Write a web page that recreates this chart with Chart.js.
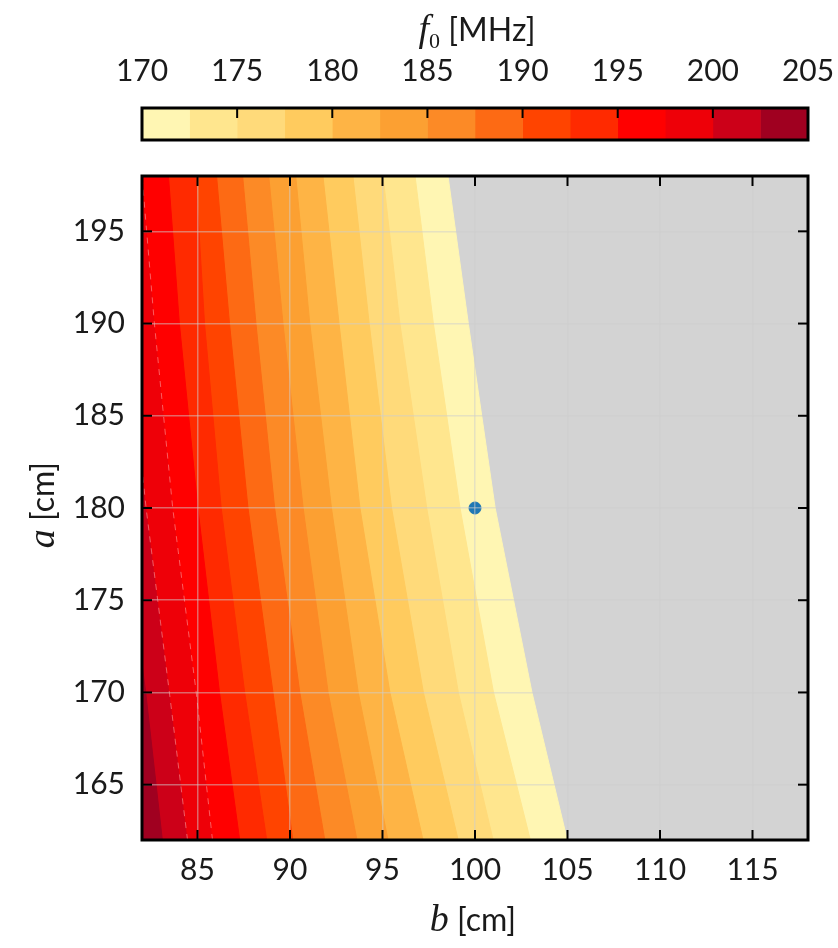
<!DOCTYPE html>
<html>
<head>
<meta charset="utf-8">
<script src="https://cdn.jsdelivr.net/npm/chart.js@4.4.1/dist/chart.umd.min.js"></script>
<style>
html, body { margin: 0; padding: 0; background: #fff; }
#wrap { position: relative; width: 838px; height: 948px; }
#wrap canvas { position: absolute; left: 0; top: 0; }
</style>
</head>
<body>
<div id="wrap">
	<canvas id="main" width="838" height="948"></canvas>
	<canvas id="cbar" width="838" height="150"></canvas>
</div>
<script>
// f0 levels (MHz), band edges of the colour bar
var f0Edges = [170, 172.5, 175, 177.5, 180, 182.5, 185, 187.5, 190, 192.5, 195, 197.5, 200, 202.5, 205];
var bandColors = ['#FFF6B3', '#FFE68E', '#FFDA7A', '#FFCB5E', '#FEB445', '#FCA032', '#FC8A26',
	'#FD6A14', '#FF4400', '#FF2A00', '#FF0000', '#EE0008', '#CC0018', '#A00020'];

var aRows = [162, 170, 180, 190, 198];
// b [cm] position of each f0 contour on those rows (one row per level in f0Edges)
var contourB = [
	[104.99, 103.08, 101.09, 99.64, 98.54],   // 170
	[102.99, 101.00, 99.19, 97.75, 96.76],    // 172.5
	[100.98, 99.10, 97.39, 95.94, 95.03],     // 175
	[99.09, 97.21, 95.49, 94.28, 93.40],      // 177.5
	[97.19, 95.40, 93.78, 92.65, 91.78],      // 180
	[95.30, 93.69, 92.24, 91.07, 90.31],      // 182.5
	[93.62, 92.06, 90.71, 89.62, 88.85],      // 185
	[91.88, 90.53, 89.17, 88.16, 87.44],      // 187.5
	[90.15, 89.08, 87.73, 86.73, 86.03],      // 190
	[88.74, 87.55, 86.28, 85.38, 84.90],      // 192.5
	[87.28, 86.19, 85.02, 84.02, 83.43],      // 195
	[85.81, 84.93, 83.66, 82.67, 82.00],      // 197.5
	[84.46, 83.48, 82.22, 81.20, 80.50],      // 200
	[83.10, 82.20, 80.90, 79.90, 79.00]       // 202.5
];
// contours that show the faint dashed edge in the picture
var dashedLevels = [197.5, 200];

// design point
var pointB = [100];
var pointA = [180];

var xTicks = [85, 90, 95, 100, 105, 110, 115];
var yTicks = [165, 170, 175, 180, 185, 190, 195];
var cbTicks = [170, 175, 180, 185, 190, 195, 200, 205];

var tickFont = { family: 'Lato', size: 30 };
var textColor = '#1a1a1a';

function strokeLine(ctx, x1, y1, x2, y2) {
	ctx.beginPath();
	ctx.moveTo(x1, y1);
	ctx.lineTo(x2, y2);
	ctx.stroke();
}

// draws "<italic sym><sub> [unit]" centred on cx
function drawLabel(ctx, cx, baseY, sym, sub, unit) {
	var symFont = 'italic 38px "Liberation Serif"';
	var subFont = '22px "Liberation Serif"';
	var unitFont = '32px Lato';
	ctx.font = symFont; var w1 = ctx.measureText(sym).width;
	ctx.font = subFont; var w2 = sub ? ctx.measureText(sub).width : 0;
	ctx.font = unitFont; var w3 = ctx.measureText(unit).width;
	var x = cx - (w1 + w2 + w3) / 2;
	ctx.fillStyle = textColor;
	ctx.textBaseline = 'alphabetic';
	ctx.textAlign = 'left';
	ctx.font = symFont; ctx.fillText(sym, x, baseY); x += w1;
	if (sub) { ctx.font = subFont; ctx.fillText(sub, x, baseY + 7); x += w2; }
	ctx.font = unitFont; ctx.fillText(unit, x, baseY);
}

var mainPlugin = {
	id: 'mainFrame',
	beforeDatasetsDraw: function(chart) {
		var ctx = chart.ctx, a = chart.chartArea;
		ctx.save();
		ctx.fillStyle = '#D3D3D3';
		ctx.fillRect(a.left, a.top, a.right - a.left, a.bottom - a.top);
		ctx.restore();
	},
	afterDraw: function(chart) {
		var ctx = chart.ctx, a = chart.chartArea;
		var xs = chart.scales.x, ys = chart.scales.y;
		ctx.save();
		ctx.strokeStyle = '#000';
		ctx.lineWidth = 2;
		xTicks.forEach(function(v) {
			var px = xs.getPixelForValue(v);
			strokeLine(ctx, px, a.bottom, px, a.bottom - 10);
			strokeLine(ctx, px, a.top, px, a.top + 10);
		});
		yTicks.forEach(function(v) {
			var py = ys.getPixelForValue(v);
			strokeLine(ctx, a.left, py, a.left + 10, py);
			strokeLine(ctx, a.right, py, a.right - 10, py);
		});
		ctx.lineWidth = 3;
		ctx.strokeRect(a.left, a.top, a.right - a.left, a.bottom - a.top);

		drawLabel(ctx, 473, 931, 'b', '', ' [cm]');
		ctx.translate(54, 505);
		ctx.rotate(-Math.PI / 2);
		drawLabel(ctx, 0, 0, 'a', '', ' [cm]');
		ctx.restore();
	}
};

var datasets = [{
	data: [{ x: pointB[0], y: pointA[0] }],
	showLine: false,
	pointRadius: 6,
	pointHoverRadius: 6,
	backgroundColor: '#1f77b4',
	borderColor: '#1f77b4',
	order: 0
}];

for (var i = 0; i < contourB.length; i++) {
	var pts = [];
	for (var j = 0; j < aRows.length; j++) {
		pts.push({ x: contourB[i][j], y: aRows[j] });
	}
	// close the region to the left of the contour (outside part is clipped)
	pts.push({ x: 70, y: aRows[aRows.length - 1] });
	pts.push({ x: 70, y: aRows[0] });
	pts.push({ x: contourB[i][0], y: aRows[0] });
	var dashed = dashedLevels.indexOf(f0Edges[i]) >= 0;
	datasets.push({
		data: pts,
		showLine: true,
		fill: 'shape',
		backgroundColor: bandColors[i],
		borderColor: dashed ? 'rgba(255,170,170,0.55)' : bandColors[i],
		borderDash: dashed ? [6, 6] : [],
		borderWidth: 1,
		pointRadius: 0,
		tension: 0,
		order: contourB.length - i
	});
}

var gridOpts = { color: 'rgba(205,205,205,0.5)', lineWidth: 1.5, drawTicks: false, z: 1 };

new Chart(document.getElementById('main'), {
	type: 'line',
	data: { datasets: datasets },
	options: {
		responsive: false,
		animation: false,
		devicePixelRatio: 1,
		layout: { padding: { top: 176, right: 30, left: 0, bottom: 0 } },
		plugins: { legend: { display: false }, tooltip: { enabled: false } },
		scales: {
			x: {
				type: 'linear', min: 82, max: 118,
				afterBuildTicks: function(ax) { ax.ticks = xTicks.map(function(v) { return { value: v }; }); },
				afterFit: function(ax) { ax.height = 108; ax.paddingLeft = 0; ax.paddingRight = 0; },
				grid: gridOpts,
				border: { display: false },
				ticks: { font: tickFont, color: textColor, padding: 12, maxRotation: 0, autoSkip: false }
			},
			y: {
				type: 'linear', min: 162, max: 198,
				afterBuildTicks: function(ax) { ax.ticks = yTicks.map(function(v) { return { value: v }; }); },
				afterFit: function(ax) { ax.width = 142; },
				grid: gridOpts,
				border: { display: false },
				ticks: { font: tickFont, color: textColor, padding: 17, autoSkip: false }
			}
		}
	},
	plugins: [mainPlugin]
});

// colour bar
var cbPlugin = {
	id: 'cbFrame',
	afterDraw: function(chart) {
		var ctx = chart.ctx, a = chart.chartArea, xs = chart.scales.x;
		ctx.save();
		ctx.strokeStyle = '#000';
		ctx.lineWidth = 2;
		cbTicks.forEach(function(v) {
			var px = xs.getPixelForValue(v);
			strokeLine(ctx, px, a.top, px, a.top + 10);
		});
		ctx.lineWidth = 3;
		ctx.strokeRect(a.left, a.top, a.right - a.left, a.bottom - a.top);
		drawLabel(ctx, 477, 41, 'f', '0', ' [MHz]');
		ctx.restore();
	}
};

var cbDatasets = bandColors.map(function(c, k) {
	return {
		data: [[f0Edges[k], f0Edges[k + 1]]],
		backgroundColor: c,
		borderWidth: 0,
		barPercentage: 1,
		categoryPercentage: 1,
		grouped: false
	};
});

new Chart(document.getElementById('cbar'), {
	type: 'bar',
	data: { labels: [''], datasets: cbDatasets },
	options: {
		indexAxis: 'y',
		responsive: false,
		animation: false,
		devicePixelRatio: 1,
		layout: { padding: { left: 142, right: 30, top: 0, bottom: 10 } },
		plugins: { legend: { display: false }, tooltip: { enabled: false } },
		scales: {
			x: {
				type: 'linear', position: 'top', min: 170, max: 205,
				afterBuildTicks: function(ax) { ax.ticks = cbTicks.map(function(v) { return { value: v }; }); },
				afterFit: function(ax) { ax.height = 108; ax.paddingLeft = 0; ax.paddingRight = 0; },
				grid: { display: false, drawTicks: false },
				border: { display: false },
				ticks: { font: tickFont, color: textColor, padding: 19, maxRotation: 0, autoSkip: false }
			},
			y: { display: false }
		}
	},
	plugins: [cbPlugin]
});
</script>
</body>
</html>
